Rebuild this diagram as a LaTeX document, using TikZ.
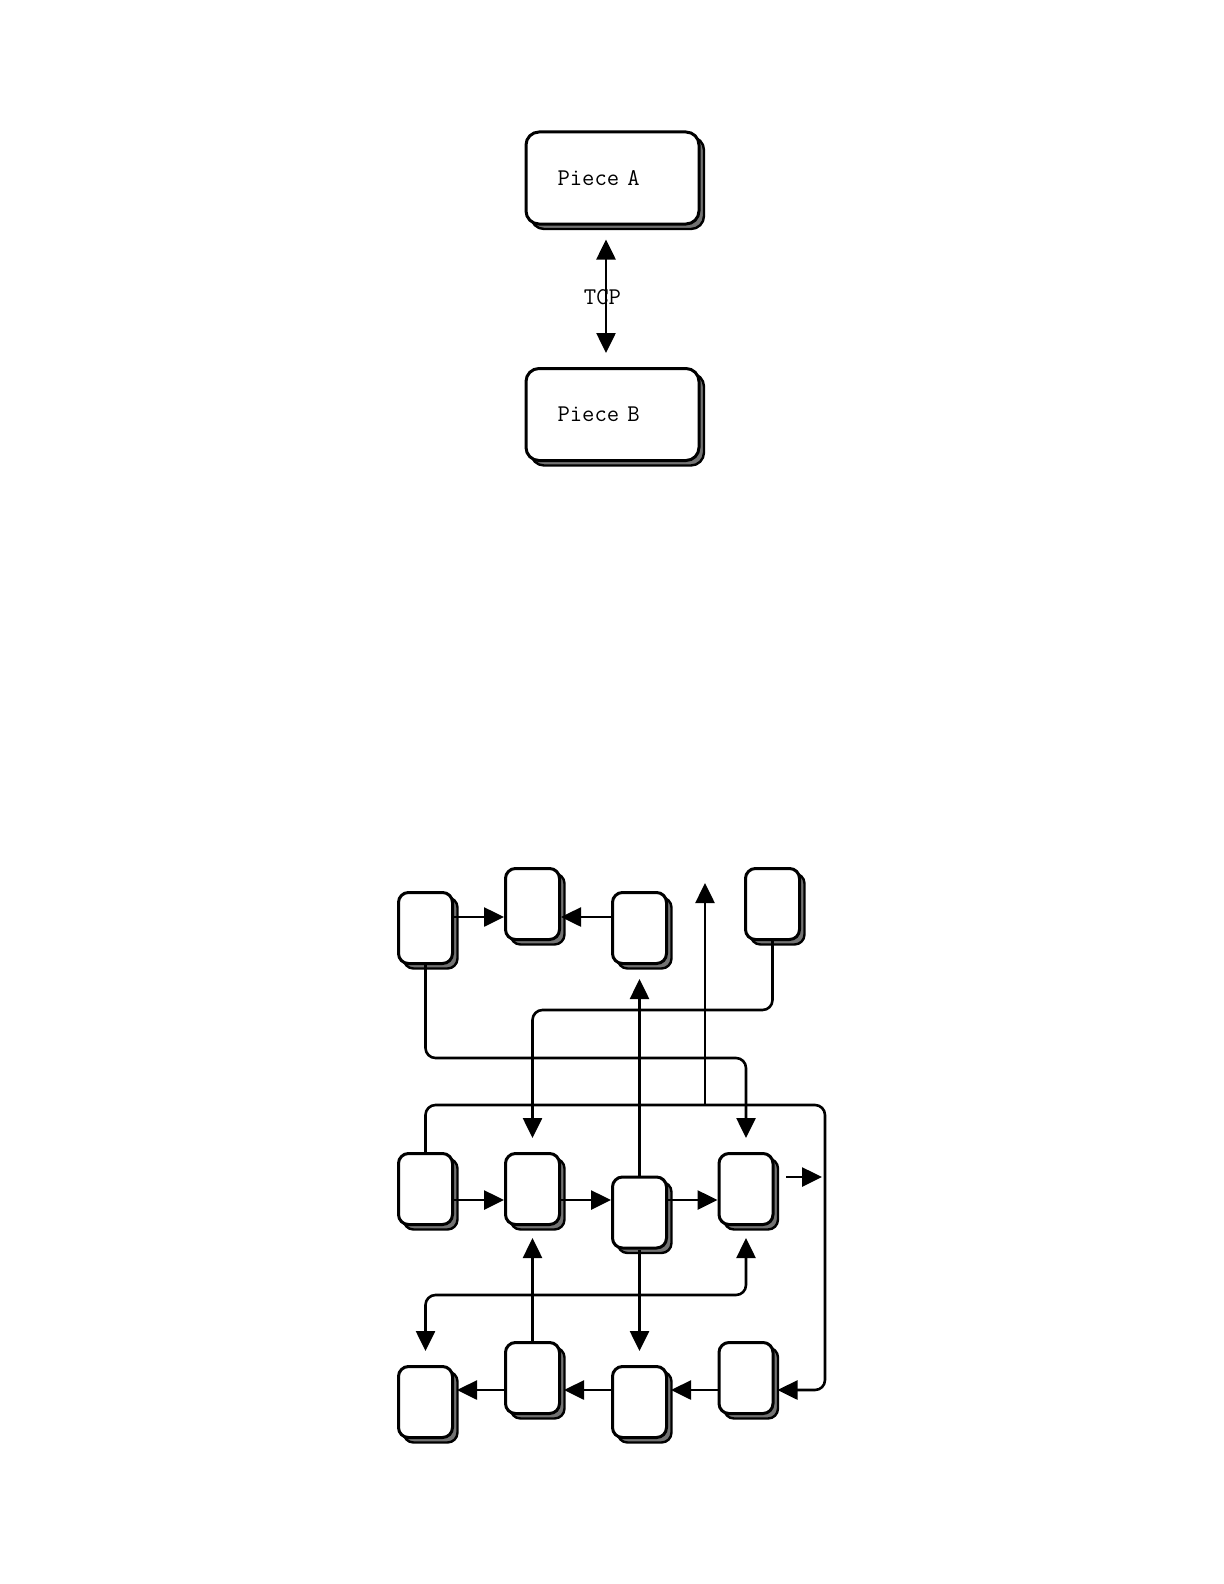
\documentclass[tikz,border=0pt]{standalone}
\usepackage{fontspec}
\usetikzlibrary{arrows.meta,shadows}
\begin{document}
\begin{tikzpicture}[x=0.5pt,y=-0.5pt,
  >={Triangle[length=10pt,width=9.5pt]},
  box/.style={draw=black, line width=1.5pt, fill=white, rounded corners=5pt,
    minimum width=27pt, minimum height=35.5pt, inner sep=0pt,
    general shadow={shadow xshift=2.5pt, shadow yshift=-2.5pt, fill=black!55, draw=black, line width=1.2pt}},
  bigbox/.style={box, rounded corners=6.5pt, text width=55pt, inner xsep=15.75pt, inner ysep=0pt,
    align=left, minimum height=46pt, font=\ttfamily\fontsize{12pt}{14pt}\selectfont},
  lbl/.style={font=\ttfamily\fontsize{12pt}{14pt}\selectfont, inner sep=0pt},
  conn/.style={line width=1.3pt, ->},
  route/.style={conn, rounded corners=5pt},
]
\useasboundingbox (0,0) rectangle (1224,1584);

% top pair
\node[bigbox] (pa) at (612.5,178) {Piece A};
\node[bigbox] (pb) at (612.5,414.5) {Piece B};
\draw[line width=1.3pt, <->, shorten <=7pt, shorten >=7pt]
  ([xshift=-3.25pt]pa.south) -- node[lbl, xshift=-1.75pt, yshift=-0.5pt]{TCP} ([xshift=-3.25pt]pb.north);

% grid nodes
\node[box] (a1) at (425.5,928) {};
\node[box] (a2) at (532.5,904) {};
\node[box] (a3) at (639.5,928) {};
\node[box] (a4) at (772.5,904) {};
\node[box] (c1) at (425.5,1189) {};
\node[box] (c2) at (532.5,1189) {};
\node[box] (c3) at (639.5,1212.5) {};
\node[box] (c4) at (746,1189) {};
\node[box] (d1) at (425.5,1402) {};
\node[box] (d2) at (532.5,1378) {};
\node[box] (d3) at (639.5,1402) {};
\node[box] (d4) at (746,1378) {};

% routing levels
\coordinate (ya) at (0,917);
\coordinate (yb) at (0,1010);
\coordinate (yc) at (0,1058);
\coordinate (ye) at (0,1177);
\coordinate (yf) at (0,1200);
\coordinate (yg) at (0,1295);
\coordinate (yh) at (0,1390);
\coordinate (cr) at (825,1105);
\coordinate (jn) at (705,1105);
\coordinate (upend) at (705,883);
\coordinate (xs) at (786,0);

% row 1
\draw[conn] (a1.east |- ya) -- (a2.west |- ya);
\draw[conn] (a3.west |- ya) -- (a2.east |- ya);

% long routes
\draw[conn] (jn) -- (upend);
\draw[conn, shorten >=7pt] (c3.north) -- (a3.south);
\draw[route, shorten >=7pt] (a4.south) |- (c2.north |- yb) -- (c2.north);
\draw[route, shorten >=7pt] (a1.south) |- (c4.north |- yc) -- (c4.north);
\draw[route, shorten >=1.5pt] (c1.north) |- (cr) |- (d4.east |- yh);
\draw[conn, shorten >=1.5pt] (xs |- ye) -- (cr |- ye);

% row 2
\draw[conn] (c1.east |- yf) -- (c2.west |- yf);
\draw[conn] (c2.east |- yf) -- (c3.west |- yf);
\draw[conn] (c3.east |- yf) -- (c4.west |- yf);

% between rows 2 and 3
\draw[conn, shorten >=6pt] (d2.north) -- (c2.south);
\draw[route, <->, shorten <=6pt, shorten >=7pt] (c4.south) |- (d1.north |- yg) -- (d1.north);
\draw[conn, shorten >=7pt] (c3.south) -- (d3.north);

% row 3
\draw[conn, shorten >=1.5pt] (d2.west |- yh) -- (d1.east |- yh);
\draw[conn, shorten >=1.5pt] (d3.west |- yh) -- (d2.east |- yh);
\draw[conn, shorten >=1.5pt] (d4.west |- yh) -- (d3.east |- yh);
\end{tikzpicture}
\end{document}
